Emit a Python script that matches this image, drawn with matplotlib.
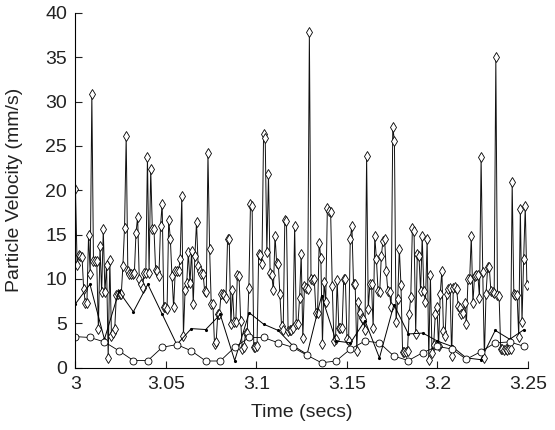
import matplotlib
matplotlib.use('Agg')
import matplotlib.pyplot as plt
import numpy as np
from matplotlib.ticker import FormatStrFormatter

plt.rcParams['font.family'] = ['Liberation Sans', 'DejaVu Sans']

# diamond series: fine sampling
peak_vel = [20.1, 11.6, 12.7, 12.6, 12.5, 8.9, 7.3, 7.3, 15.0, 10.6,
            30.9, 12.0, 12.0, 12.0, 4.4, 13.7, 8.5, 15.6, 8.5, 11.6,
            1.05, 12.1, 3.6, 3.9, 4.4, 8.2, 8.3, 8.3, 8.3, 11.5,
            15.8, 26.1, 10.9, 10.6, 10.6, 10.6, 10.7, 15.2, 17.0, 10.0,
            9.4, 9.0, 10.7, 10.7, 23.8, 10.7, 22.4, 15.6, 15.6, 11.0,
            10.9, 10.3, 16.0, 18.5, 6.8, 6.8, 6.6, 16.7, 14.5, 10.3,
            6.8, 10.9, 10.9, 10.9, 12.2, 19.4, 3.6, 8.7, 9.5, 13.0,
            9.5, 13.2, 7.2, 12.6, 16.4, 11.5, 10.9, 10.6, 10.6, 8.6,
            8.5, 24.2, 13.4, 7.2, 7.2, 2.7, 2.9, 6.0, 6.0, 8.3,
            8.3, 8.2, 7.8,
            14.5, 14.5, 4.9, 8.8, 5.1, 5.1, 10.5, 10.3, 5.3, 2.1,
            2.3, 3.9, 3.9, 9.0, 18.5, 18.2, 2.3, 2.3, 2.4, 12.8,
            12.7, 11.7, 26.3, 25.9, 13.0, 21.8, 10.7, 10.5, 8.7, 14.9,
            11.8, 11.7, 8.3, 4.7, 4.3, 16.7, 16.5, 4.1, 4.3, 4.3,
            4.5, 16.0, 4.9, 4.9, 7.8, 12.8, 3.3, 9.2, 9.0, 8.9,
            37.8, 10.0, 9.9, 10.0, 6.2, 6.2, 14.1, 12.4, 2.7, 9.7,
            7.4, 18.0, 17.7, 17.5, 9.2, 3.0, 3.2, 9.9, 4.5, 4.5,
            4.5, 10.0, 10.0, 3.2, 3.0, 14.5, 16.0, 9.4, 9.4, 1.9,
            7.4, 6.2, 5.6, 5.5, 4.3, 23.9, 6.6, 9.4, 9.4, 4.5,
            14.8, 12.2, 8.6, 8.5, 12.6,
            14.3, 14.5, 10.9, 8.6, 8.5, 6.8, 27.1, 25.6, 5.1, 7.7,
            13.4, 9.3, 1.8, 1.8, 1.8, 1.9, 6.0, 8.0, 15.8, 15.4,
            3.8, 12.8, 12.6, 8.6, 14.8, 8.6, 7.4, 14.5, 0.9, 10.4,
            1.6, 2.6, 6.0, 6.8, 2.4, 8.3, 10.9, 4.1, 3.6, 8.3,
            8.9, 9.0, 1.3, 9.0, 9.1, 8.9, 7.0, 6.7, 6.0, 6.2,
            7.3, 4.9, 10.0, 10.0, 14.8, 7.3, 10.3, 10.5, 10.5, 7.9,
            23.7, 10.8, 1.1, 8.3, 11.3, 11.3, 8.6, 8.5, 8.4, 35.0,
            8.2, 8.1, 2.1, 2.1, 2.0, 2.1, 2.0, 2.1, 2.1, 20.9,
            8.3, 8.2, 8.2, 3.5, 17.9, 5.1, 12.2, 18.2, 9.3]

# coarse series (every 0.008 s)
mid_vel = [7.2, 9.4, 3.2, 8.6, 6.3, 9.4, 6.0, 2.6, 4.4, 4.3,
           6.0, 0.8, 6.2, 4.9, 4.2, 2.5, 1.5, 8.1, 3.0, 2.8,
           5.3, 1.1, 7.1, 3.8, 3.9, 3.0, 2.4, 1.1, 0.9, 4.2,
           3.2, 4.3]
low_vel = [3.5, 3.4, 2.9, 1.9, 0.8, 0.8, 2.3, 2.6, 1.9, 0.75,
           0.75, 2.3, 3.4, 3.4, 2.8, 2.3, 1.4, 0.55, 0.75, 2.1,
           3.0, 2.8, 1.3, 0.8, 1.7, 2.4, 2.1, 0.95, 1.8, 2.8,
           2.9, 2.4]

t_fine = np.linspace(3.0, 3.2495, len(peak_vel))
t_coarse = 3.0 + 0.008 * np.arange(len(low_vel))

fig = plt.figure(figsize=(5.55, 4.3), dpi=100)
ax = fig.add_axes([0.136, 0.145, 0.815, 0.825])

ax.plot(t_fine, peak_vel, color='#111111', lw=0.7, marker='d', ms=5.5,
        mfc='white', mec='k', mew=0.6)
ax.plot(t_coarse, mid_vel, color='k', lw=0.7, marker='.', ms=2.5)
ax.plot(t_coarse, low_vel, color='k', lw=0.6, marker='o', ms=5,
        mfc='white', mec='k', mew=0.6)

ax.set_xlim(3.0, 3.25)
ax.set_ylim(0, 40)
ax.set_xticks(np.arange(3.0, 3.2501, 0.05))
ax.set_yticks(np.arange(0, 41, 5))
ax.xaxis.set_major_formatter(FormatStrFormatter('%g'))
ax.tick_params(direction='in', length=5, width=0.8, labelsize=14, pad=6,
               colors='#222222')
ax.spines['top'].set_visible(False)
ax.spines['right'].set_visible(False)
for s in ['left', 'bottom']:
    ax.spines[s].set_linewidth(0.8)

ax.set_xlabel('Time (secs)', fontsize=14, color='#222222', labelpad=8)
ax.set_ylabel('Particle Velocity (mm/s)', fontsize=14, color='#222222',
              labelpad=16)

fig.savefig('out.png', dpi=100)
